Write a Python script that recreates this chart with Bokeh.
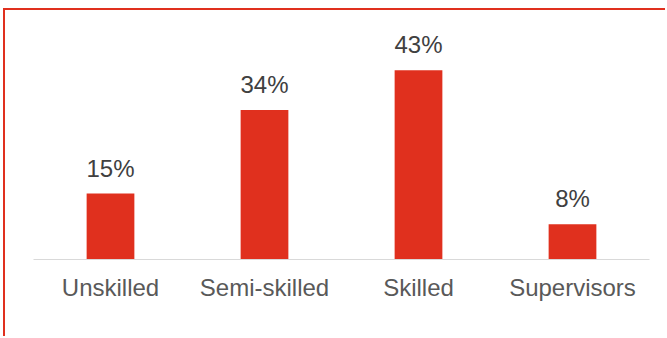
from bokeh.plotting import figure
from bokeh.models import ColumnDataSource, LabelSet, Range1d
from bokeh.core.properties import value
from bokeh.embed import file_html
from bokeh.resources import INLINE

categories = ["Unskilled", "Semi-skilled", "Skilled", "Supervisors"]
shares = [15, 34, 43, 8]
labels = ["15%", "34%", "43%", "8%"]

RED = "#E0301E"

source = ColumnDataSource(dict(cat=categories, val=shares, lab=labels))

# frame: x 33..649, y bottom at 259 (page), 4.4 px per percentage point
p = figure(
    x_range=categories,
    y_range=Range1d(0, 249 / 4.4),
    width=662, height=328,
    output_backend="svg", toolbar_location=None,
    min_border_left=28, min_border_right=18,
    min_border_top=0, min_border_bottom=79,
)
p.styles = {
    "margin-left": "3px", "margin-top": "8px",
    "border-left": f"2px solid {RED}", "border-top": f"2px solid {RED}",
}

p.vbar(x="cat", top="val", width=0.31, source=source, color=RED, line_color=None)

p.add_layout(LabelSet(x="cat", y="val", text="lab", source=source,
                      text_align="center", text_baseline="alphabetic",
                      y_offset=17, text_font=value("Liberation Sans"),
                      text_font_size=value("24px"), text_color="#404040"))

p.outline_line_color = None
p.grid.visible = False
p.yaxis.visible = False
p.xaxis.axis_line_color = "#D9D9D9"
p.xaxis.axis_line_width = 1
p.xaxis.major_tick_line_color = None
p.xaxis.minor_tick_line_color = None
p.xaxis.major_label_text_font = "Liberation Sans"
p.xaxis.major_label_text_font_size = "24px"
p.xaxis.major_label_text_color = "#595959"
p.xaxis.major_label_standoff = 8
p.x_range.range_padding = 0

open("out.html", "w").write(file_html(p, INLINE))
